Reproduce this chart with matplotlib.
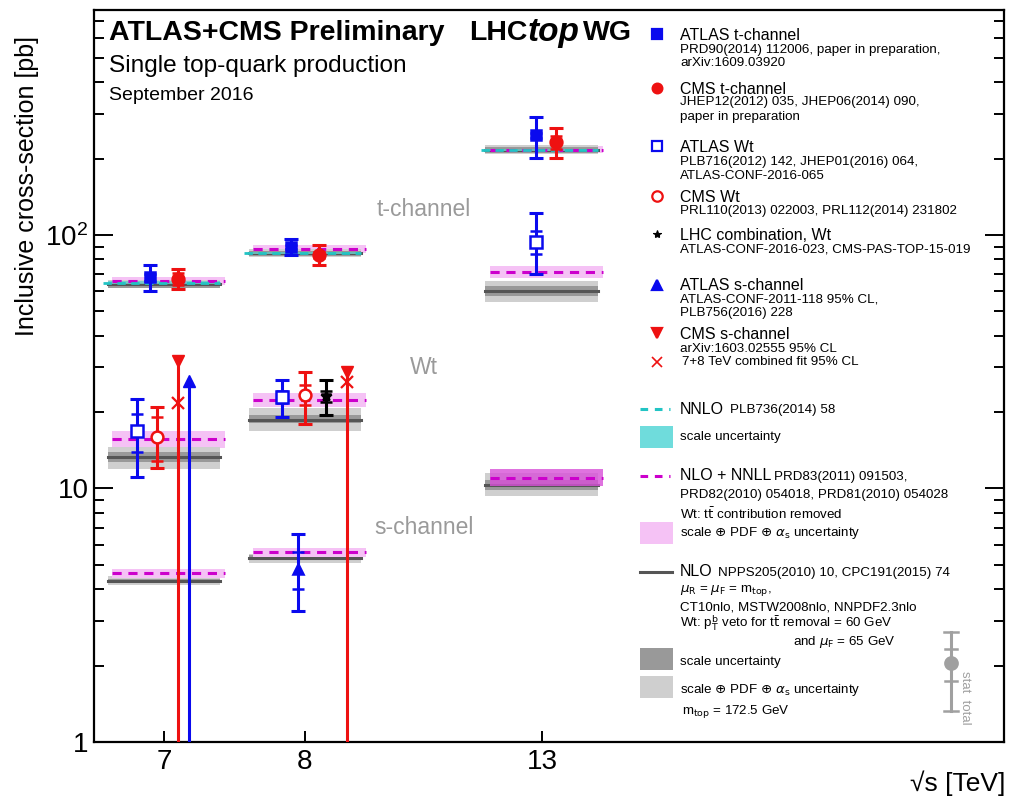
import matplotlib
matplotlib.use("Agg")
import matplotlib.pyplot as plt
from matplotlib.lines import Line2D
from matplotlib.patches import Rectangle
from matplotlib.ticker import LogLocator, NullFormatter, FixedLocator, FixedFormatter

plt.rcParams['font.family'] = ['Liberation Sans', 'DejaVu Sans']
plt.rcParams['mathtext.fontset'] = 'dejavusans'

# ---------------------------------------------------------------- data
energies = ['7', '8', '13']
xpos = [0.0, 1.0, 2.68]

# t-channel measurements [pb]
atlas_t = [68.0, 89.6, 247.0]
atlas_t_up = [8.0, 7.1, 46.0]
atlas_t_dn = [8.0, 6.3, 46.0]
atlas_t_stat = [2.0, 1.7, 6.0]
cms_t = [67.2, 83.6, 232.0]
cms_t_err = [6.1, 7.7, 31.0]
cms_t_stat = [3.7, 2.3, 13.0]

# Wt measurements [pb]  (ATLAS: 7, 8, 13 TeV; CMS: 7, 8 TeV; LHC comb.: 8 TeV)
atlas_wt = [16.8, 23.0, 94.0]
atlas_wt_up = [5.7, 3.7, 28.0]
atlas_wt_dn = [5.7, 3.9, 24.0]
atlas_wt_stat = [2.9, 1.3, 10.0]
cms_wt = [16.0, 23.4]
cms_wt_up = [5.0, 5.4]
cms_wt_dn = [4.0, 5.4]
cms_wt_stat = [3.2, 2.1]
lhc_wt = [23.1]
lhc_wt_err = [3.6]
lhc_wt_stat = [1.1]

# s-channel measurements / 95% CL upper limits [pb]
atlas_s = [4.8]            # 8 TeV
atlas_s_up = [1.8]
atlas_s_dn = [1.5]
atlas_s_stat = [0.8]
atlas_s_limit = [26.5]     # 7 TeV
cms_s_limit = [31.7, 28.8]         # 7, 8 TeV
cms_s_comb_limit = [21.7, 26.2]    # 7+8 TeV combined fit

# NNLO t-channel
nnlo_t = [64.6, 84.7, 216.0]
nnlo_t_lo = [63.9, 83.8, 214.0]
nnlo_t_hi = [65.7, 85.8, 219.0]

# NLO+NNLL
nnll_t = [65.9, 87.8, 217.0]
nnll_t_lo = [63.7, 84.9, 211.0]
nnll_t_hi = [68.3, 91.2, 224.0]
nnll_wt = [15.7, 22.4, 71.7]
nnll_wt_lo = [14.5, 20.9, 67.9]
nnll_wt_hi = [16.9, 23.9, 75.5]
nnll_s = [4.63, 5.61, 11.0]
nnll_s_lo = [4.44, 5.39, 10.2]
nnll_s_hi = [4.83, 5.83, 11.9]

# NLO (central, scale band, scale+PDF+alpha_s band)
nlo_t = [63.9, 84.7, 217.0]
nlo_t_scale_lo = [62.0, 82.5, 211.0]
nlo_t_scale_hi = [65.5, 86.5, 222.0]
nlo_t_tot_lo = [61.5, 81.5, 208.0]
nlo_t_tot_hi = [66.5, 88.0, 226.0]
nlo_wt = [13.3, 18.7, 60.1]
nlo_wt_scale_lo = [12.7, 18.2, 57.3]
nlo_wt_scale_hi = [13.9, 19.4, 62.9]
nlo_wt_tot_lo = [11.9, 16.9, 54.5]
nlo_wt_tot_hi = [14.6, 20.7, 65.7]
nlo_s = [4.33, 5.34, 10.3]
nlo_s_scale_lo = [4.26, 5.22, 9.9]
nlo_s_scale_hi = [4.41, 5.46, 10.8]
nlo_s_tot_lo = [4.17, 5.10, 9.3]
nlo_s_tot_hi = [4.53, 5.52, 11.5]

# ---------------------------------------------------------------- style
BLUE = '#0a0aee'
RED = '#ee1111'
MAG = '#cc00cc'
PINK = '#f5c2f5'
CYAN = '#22c4c4'
CYANBAND = '#6fdcdc'
GLIGHT = '#cfcfcf'
GDARK = '#999999'
GLINE = '#555555'
LABELGRAY = '#9a9a9a'

W, H = 1009, 800


def fx(x):
    return x / W


def fy(y):
    return 1 - y / H


fig = plt.figure(figsize=(W / 100, H / 100), dpi=100)
ax = fig.add_axes([94 / W, 58 / H, 910 / W, 732 / H])
ax.set_yscale('log')
ax.set_xlim(-0.496, 5.957)
ax.set_ylim(1, 771)

HW = 0.40  # half width of theory bands


def band(x, lo, hi, color, z, dx=0.0, alpha=1.0):
    ax.fill_between([x - HW + dx, x + HW + dx], [lo, lo], [hi, hi],
                    color=color, lw=0, zorder=z, alpha=alpha)


# theory: NLO+NNLL pink bands (behind)
s_band_colors = [PINK, PINK, '#d850d8']
for i, x in enumerate(xpos):
    band(x, nnll_t_lo[i], nnll_t_hi[i], PINK, 1, dx=0.03)
    band(x, nnll_wt_lo[i], nnll_wt_hi[i], PINK, 1, dx=0.03)

# theory: NLO grey bands
for i, x in enumerate(xpos):
    for c, lo, hi, z in [(GLIGHT, nlo_t_tot_lo, nlo_t_tot_hi, 2),
                         (GDARK, nlo_t_scale_lo, nlo_t_scale_hi, 3),
                         (GLIGHT, nlo_wt_tot_lo, nlo_wt_tot_hi, 2),
                         (GDARK, nlo_wt_scale_lo, nlo_wt_scale_hi, 3),
                         (GLIGHT, nlo_s_tot_lo, nlo_s_tot_hi, 2),
                         (GDARK, nlo_s_scale_lo, nlo_s_scale_hi, 3)]:
        band(x, lo[i], hi[i], c, z)
    for v in (nlo_t, nlo_wt, nlo_s):
        ax.plot([x - HW, x + HW], [v[i], v[i]], color=GLINE, lw=2.2, zorder=4)
    # s-channel NLO+NNLL band
    band(x, nnll_s_lo[i], nnll_s_hi[i], s_band_colors[i], 4.5, dx=0.03,
         alpha=0.8 if i == 2 else 1.0)

# cyan NNLO scale band + line (t-channel)
for i, x in enumerate(xpos):
    band(x, nnlo_t_lo[i], nnlo_t_hi[i], CYANBAND, 5, alpha=0.75)
    ax.plot([x - HW - 0.03, x + HW], [nnlo_t[i], nnlo_t[i]], color=CYAN,
            lw=2.0, ls=(0, (3, 2)), zorder=7)

# magenta dashed NLO+NNLL lines
for i, x in enumerate(xpos):
    for v in (nnll_t, nnll_wt, nnll_s):
        ax.plot([x - HW + 0.03, x + HW + 0.03], [v[i], v[i]], color=MAG,
                lw=2.2, ls=(0, (3, 2.2)), zorder=6)


def measurement(x, y, up, dn, stat, color, marker, mfc, ms):
    ax.errorbar([x], [y], yerr=[[dn], [up]], fmt='none', ecolor=color,
                elinewidth=2.2, capsize=5, capthick=2.2, zorder=10)
    ax.plot([x, x], [y - stat, y + stat], ls='none', marker='_', ms=8,
            mew=1.8, color=color, zorder=10)
    ax.plot([x], [y], ls='none', marker=marker, ms=ms, mfc=mfc, mec=color,
            mew=1.8, zorder=11)


# t-channel points
off_atlas_t = [-0.10, -0.10, -0.04]
off_cms_t = [0.10, 0.10, 0.10]
for i, x in enumerate(xpos):
    measurement(x + off_atlas_t[i], atlas_t[i], atlas_t_up[i], atlas_t_dn[i],
                atlas_t_stat[i], BLUE, 's', BLUE, 7.5)
    measurement(x + off_cms_t[i], cms_t[i], cms_t_err[i], cms_t_err[i],
                cms_t_stat[i], RED, 'o', RED, 8.5)

# Wt points
off_atlas_wt = [-0.19, -0.16, -0.04]
for i, x in enumerate(xpos):
    measurement(x + off_atlas_wt[i], atlas_wt[i], atlas_wt_up[i], atlas_wt_dn[i],
                atlas_wt_stat[i], BLUE, 's', 'white', 8)
off_cms_wt = [-0.05, 0.0]
for i in range(len(cms_wt)):
    measurement(xpos[i] + off_cms_wt[i], cms_wt[i], cms_wt_up[i], cms_wt_dn[i],
                cms_wt_stat[i], RED, 'o', 'white', 8.5)
measurement(xpos[1] + 0.15, lhc_wt[0], lhc_wt_err[0], lhc_wt_err[0],
            lhc_wt_stat[0], 'black', '*', 'black', 7)

# s-channel: ATLAS 8 TeV measurement
measurement(xpos[1] - 0.05, atlas_s[0], atlas_s_up[0], atlas_s_dn[0],
            atlas_s_stat[0], BLUE, '^', BLUE, 7)

# s-channel limits
ymin = ax.get_ylim()[0]
off_cms_lim = [0.10, 0.30]
for i in range(len(cms_s_limit)):
    xl = xpos[i] + off_cms_lim[i]
    ax.plot([xl, xl], [ymin, cms_s_limit[i]], color=RED, lw=2.2, zorder=9)
    ax.plot([xl], [cms_s_limit[i]], ls='none', marker='v', ms=8, color=RED, zorder=11)
    ax.plot([xl], [cms_s_comb_limit[i]], ls='none', marker='x', ms=8, mew=1.6,
            color=RED, zorder=11)
xa = xpos[0] + 0.18
ax.plot([xa, xa], [ymin, atlas_s_limit[0]], color=BLUE, lw=2.2, zorder=9)
ax.plot([xa], [atlas_s_limit[0]], ls='none', marker='^', ms=8, color=BLUE, zorder=11)

# channel names
for txt, yy in [('t-channel', 210), ('Wt', 368), ('s-channel', 527)]:
    fig.text(fx(424), fy(yy), txt, color=LABELGRAY, fontsize=16.5,
             ha='center', va='center')

# ---------------------------------------------------------------- axes
for sp in ax.spines.values():
    sp.set_linewidth(1.6)
ax.yaxis.set_major_locator(FixedLocator([1, 10, 100]))
ax.yaxis.set_major_formatter(FixedFormatter(['1', '10', r'$\mathregular{10^2}$']))
ax.yaxis.set_minor_locator(LogLocator(base=10, subs=range(2, 10), numticks=20))
ax.yaxis.set_minor_formatter(NullFormatter())
ax.tick_params(axis='y', which='both', direction='in', right=True, left=True,
               width=1.4, labelsize=20, pad=4)
ax.tick_params(axis='y', which='major', length=14)
ax.tick_params(axis='y', which='minor', length=7.5)
ax.set_xticks(xpos)
ax.set_xticklabels(energies)
ax.tick_params(axis='x', which='both', direction='in', top=False, length=8,
               width=1.4, labelsize=20, pad=5)
ax.xaxis.set_minor_locator(FixedLocator([]))

fig.text(fx(27), fy(186), 'Inclusive cross-section [pb]', rotation=90,
         fontsize=18, ha='center', va='center')
fig.text(fx(1005), fy(783), '√s [TeV]', fontsize=19, ha='right', va='center')

# ---------------------------------------------------------------- header
fig.text(fx(109), fy(33), 'ATLAS+CMS Preliminary', fontsize=20.5,
         fontweight='bold', va='center')
fig.text(fx(469), fy(33), 'LHC', fontsize=20.5, fontweight='bold', va='center')
fig.text(fx(528), fy(33), 'top', fontsize=24, fontweight='bold',
         style='italic', va='center')
fig.text(fx(583), fy(33), 'WG', fontsize=20.5, fontweight='bold', va='center')
fig.text(fx(109), fy(66), 'Single top-quark production', fontsize=17.6,
         va='center')
fig.text(fx(109), fy(96), 'September 2016', fontsize=14, va='center')

# ---------------------------------------------------------------- legend
TX = 680
MX = 657
BIG = 11.5
SMALL = 9.6


def fig_marker(x, y, marker, color, mfc, ms, mew=1.6):
    fig.add_artist(Line2D([fx(x)], [fy(y)], ls='none', marker=marker, ms=ms,
                          mfc=mfc, mec=color, mew=mew, transform=fig.transFigure))


def lt(y, s, size=SMALL, x=TX):
    fig.text(fx(x), fy(y), s, fontsize=size, va='center')


fig_marker(MX, 34, 's', BLUE, BLUE, 6.5)
lt(35, 'ATLAS t-channel', BIG)
lt(50, 'PRD90(2014) 112006, paper in preparation,')
lt(63, 'arXiv:1609.03920')

fig_marker(MX, 88, 'o', RED, RED, 7)
lt(89, 'CMS t-channel', BIG)
lt(102, 'JHEP12(2012) 035, JHEP06(2014) 090,')
lt(117, 'paper in preparation')

fig_marker(MX, 146, 's', BLUE, 'white', 7)
lt(147, 'ATLAS Wt', BIG)
lt(162, 'PLB716(2012) 142, JHEP01(2016) 064,')
lt(176, 'ATLAS-CONF-2016-065')

fig_marker(MX, 196, 'o', RED, 'white', 7.5)
lt(197, 'CMS Wt', BIG)
lt(211, 'PRL110(2013) 022003, PRL112(2014) 231802')

fig_marker(MX, 234, '*', 'black', 'black', 6, mew=0.8)
lt(235, 'LHC combination, Wt', BIG)
lt(249, 'ATLAS-CONF-2016-023, CMS-PAS-TOP-15-019')

fig_marker(MX, 285, '^', BLUE, BLUE, 6.5)
lt(286, 'ATLAS s-channel', BIG)
lt(299, 'ATLAS-CONF-2011-118 95% CL,')
lt(313, 'PLB756(2016) 228')

fig_marker(MX, 333, 'v', RED, RED, 6.5)
lt(335, 'CMS s-channel', BIG)
lt(349, 'arXiv:1603.02555 95% CL')
fig_marker(MX, 362, 'x', RED, RED, 6.5, mew=1.2)
lt(362, '7+8 TeV combined fit 95% CL', SMALL, x=682)

# theory legend
fig.add_artist(Line2D([fx(640), fx(670)], [fy(409), fy(409)], color=CYAN, lw=2.2,
                      ls=(0, (2.5, 2.2)), transform=fig.transFigure))
lt(409, 'NNLO', BIG)
lt(410, 'PLB736(2014) 58', SMALL, x=730)
fig.add_artist(Rectangle((fx(640), fy(448)), fx(33), 22 / H, color=CYANBAND,
                         lw=0, transform=fig.transFigure))
lt(437, 'scale uncertainty')

fig.add_artist(Line2D([fx(640), fx(670)], [fy(476), fy(476)], color=MAG, lw=2.2,
                      ls=(0, (2.5, 2.2)), transform=fig.transFigure))
lt(476, 'NLO + NNLL', BIG)
lt(477, 'PRD83(2011) 091503,', SMALL, x=774)
lt(495, 'PRD82(2010) 054018, PRD81(2010) 054028')
lt(514, r'Wt: t$\bar{\mathrm{t}}$ contribution removed')
fig.add_artist(Rectangle((fx(640), fy(544)), fx(33), 22 / H, color=PINK,
                         lw=0, transform=fig.transFigure))
lt(533, r'scale $\oplus$ PDF $\oplus$ $\alpha_\mathrm{s}$ uncertainty')

fig.add_artist(Line2D([fx(640), fx(672)], [fy(572), fy(572)], color=GLINE, lw=2.2,
                      transform=fig.transFigure))
lt(572, 'NLO', BIG)
lt(573, 'NPPS205(2010) 10, CPC191(2015) 74', SMALL, x=718)
lt(591, r'$\mu_\mathrm{R}$ = $\mu_\mathrm{F}$ = m$_\mathrm{top}$,')
lt(608, 'CT10nlo, MSTW2008nlo, NNPDF2.3nlo')
lt(623, r'Wt: p$_\mathrm{T}^\mathrm{b}$ veto for t$\bar{\mathrm{t}}$ removal = 60 GeV')
lt(642, r'and $\mu_\mathrm{F}$ = 65 GeV', SMALL, x=793)
fig.add_artist(Rectangle((fx(640), fy(670)), fx(33), 22 / H, color=GDARK,
                         lw=0, transform=fig.transFigure))
lt(662, 'scale uncertainty')
fig.add_artist(Rectangle((fx(640), fy(698)), fx(33), 22 / H, color=GLIGHT,
                         lw=0, transform=fig.transFigure))
lt(690, r'scale $\oplus$ PDF $\oplus$ $\alpha_\mathrm{s}$ uncertainty')
lt(712, r'm$_\mathrm{top}$ = 172.5 GeV', SMALL, x=682)

# stat / total key
KG = '#a0a0a0'
kx = 951
fig.add_artist(Line2D([fx(kx), fx(kx)], [fy(632), fy(711)], color=KG, lw=2.2,
                      transform=fig.transFigure))
for yy, half in [(632, 7), (711, 7), (649, 6), (681, 6)]:
    fig.add_artist(Line2D([fx(kx - half), fx(kx + half)], [fy(yy), fy(yy)],
                          color=KG, lw=1.8, transform=fig.transFigure))
fig_marker(kx, 663, 'o', KG, KG, 9)
fig.text(fx(965), fy(671), 'stat  total', rotation=270, color=KG, fontsize=9.5,
         ha='center', va='top')

fig.savefig('out.png', dpi=100)
